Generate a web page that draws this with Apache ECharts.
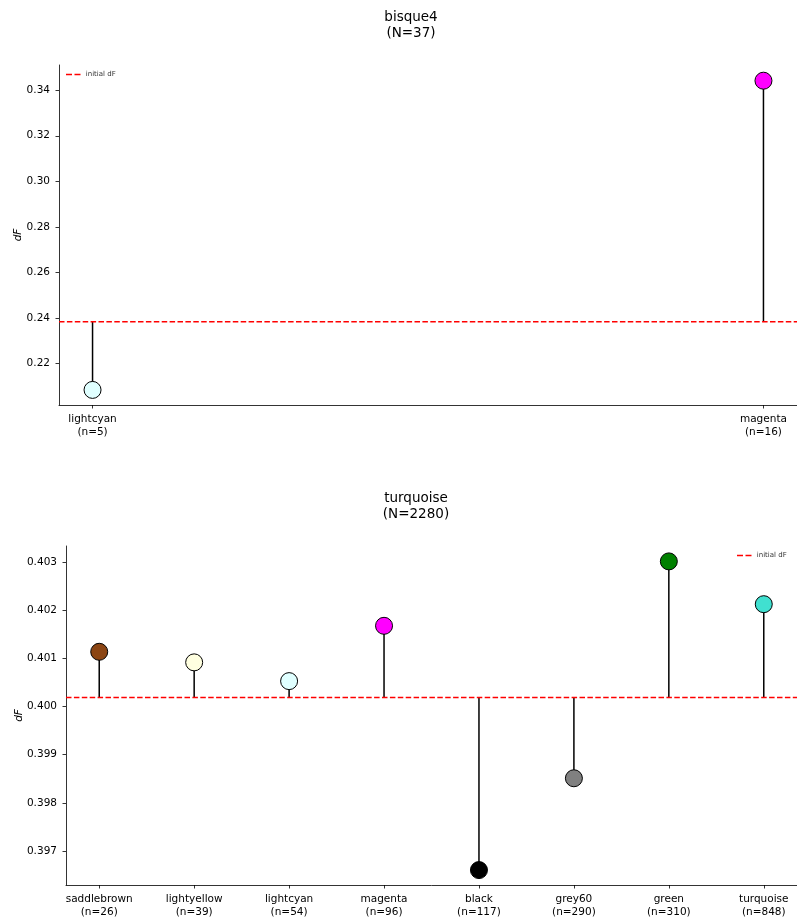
<!DOCTYPE html>
<html>
<head>
<meta charset="utf-8">
<script src="https://cdn.jsdelivr.net/npm/echarts@6/dist/echarts.min.js"></script>
<style>html,body{margin:0;padding:0;background:#fff}#c{width:797px;height:919px}</style>
</head>
<body>
<div id="c"></div>
<script>
// ---- data: top panel (bisque4) ----
const topTitle = 'bisque4\n(N=37)';
const topCats = ['lightcyan', 'magenta'];
const topN = [5, 16];
const topValues = [0.2083, 0.3442];
const topColors = ['#E0FFFF', '#FF00FF'];
const topInit = 0.2383;
const topTicks = [0.22, 0.24, 0.26, 0.28, 0.30, 0.32, 0.34];

// ---- data: bottom panel (turquoise) ----
const botTitle = 'turquoise\n(N=2280)';
const botCats = ['saddlebrown', 'lightyellow', 'lightcyan', 'magenta', 'black', 'grey60', 'green', 'turquoise'];
const botN = [26, 39, 54, 96, 117, 290, 310, 848];
const botValues = [0.40114, 0.40092, 0.40053, 0.40168, 0.39660, 0.39851, 0.40302, 0.40213];
const botColors = ['#8B4513', '#FFFFE0', '#E0FFFF', '#FF00FF', '#000000', '#808080', '#008000', '#40E0D0'];
const botInit = 0.40019;
const botTicks = [0.397, 0.398, 0.399, 0.400, 0.401, 0.402, 0.403];

const FONT = 'DejaVu Sans';
const chart = echarts.init(document.getElementById('c'));

function xAxisFor(gi, cats, ns) {
  const m = 0.05 * (cats.length - 1);
  const idx = cats.map((_, i) => i);
  return {
    type: 'value', gridIndex: gi, min: -m, max: cats.length - 1 + m,
    splitLine: {show: false},
    axisLine: {onZero: false, lineStyle: {color: '#000', width: 0.8}},
    axisTick: {customValues: idx, length: 3.5, lineStyle: {color: '#000', width: 0.8}},
    axisLabel: {customValues: idx, margin: 8, color: '#000', fontFamily: FONT, fontSize: 10.5, lineHeight: 13,
      formatter: v => cats[Math.round(v)] + '\n(n=' + ns[Math.round(v)] + ')'}
  };
}
function yAxisFor(gi, min, max, ticks, dec, gap) {
  return {
    type: 'value', gridIndex: gi, min: min, max: max,
    name: 'dF', nameLocation: 'middle', nameRotate: 90, nameGap: gap, nameMoveOverlap: false,
    nameTextStyle: {fontStyle: 'italic', fontFamily: FONT, fontSize: 10.5, color: '#000'},
    splitLine: {show: false},
    axisLine: {show: true, onZero: false, lineStyle: {color: '#000', width: 0.8}},
    axisTick: {show: true, customValues: ticks, length: 3.5, lineStyle: {color: '#000', width: 0.8}},
    axisLabel: {customValues: ticks, margin: 9, color: '#000', fontFamily: FONT, fontSize: 10.5,
      formatter: v => v.toFixed(dec)}
  };
}
function stems(gi, vals, init) {
  return {
    type: 'custom', xAxisIndex: gi, yAxisIndex: gi, z: 2,
    data: vals.map((v, i) => [i, v]),
    renderItem: (params, api) => {
      const x = api.value(0), y = api.value(1);
      const p0 = api.coord([x, init]), p1 = api.coord([x, y]);
      return {type: 'line', shape: {x1: p0[0], y1: p0[1], x2: p1[0], y2: p1[1]},
        style: {stroke: '#000', lineWidth: 1.5}};
    }
  };
}
function markers(gi, vals, colors) {
  return {
    type: 'scatter', xAxisIndex: gi, yAxisIndex: gi, z: 4, symbolSize: 17,
    data: vals.map((v, i) => ({value: [i, v], itemStyle: {color: colors[i], borderColor: '#000', borderWidth: 1, opacity: 1}}))
  };
}
function initLine(gi, cats, init) {
  const m = 0.05 * (cats.length - 1);
  return {
    type: 'line', name: 'initial dF', xAxisIndex: gi, yAxisIndex: gi, z: 3,
    symbol: 'none', showSymbol: false, silent: true,
    data: [[-m, init], [cats.length - 1 + m, init]],
    lineStyle: {color: '#FF0000', width: 1.5, type: [5.5, 2.4]},
    itemStyle: {color: '#FF0000'}
  };
}

const dashIcon = 'path://M0,0L6,0L6,1.5L0,1.5Z M8.5,0L14.5,0L14.5,1.5L8.5,1.5Z';
function legendAt(left, top) {
  return {left: left, top: top, padding: 0, itemWidth: 15, itemHeight: 1.5, itemGap: 4,
    textStyle: {fontFamily: FONT, fontSize: 7, color: '#333'},
    data: [{name: 'initial dF', icon: dashIcon, itemStyle: {color: '#FF0000'}}]};
}

chart.setOption({
  animation: false,
  backgroundColor: '#fff',
  title: [
    {text: topTitle, left: 411, top: 9, padding: 0, textAlign: 'center',
      textStyle: {fontFamily: FONT, fontSize: 13.5, fontWeight: 'normal', color: '#000', lineHeight: 16}},
    {text: botTitle, left: 416, top: 490, padding: 0, textAlign: 'center',
      textStyle: {fontFamily: FONT, fontSize: 13.5, fontWeight: 'normal', color: '#000', lineHeight: 16}}
  ],
  legend: [legendAt(66, 71), legendAt(737, 552)],
  grid: [
    {left: 59, top: 65, width: 738, height: 340, containLabel: false, outerBoundsMode: 'none'},
    {left: 66, top: 546, width: 731, height: 339, containLabel: false, outerBoundsMode: 'none'}
  ],
  xAxis: [xAxisFor(0, topCats, topN), xAxisFor(1, botCats, botN)],
  yAxis: [
    yAxisFor(0, 0.20167, 0.3511, topTicks, 2, 35),
    yAxisFor(1, 0.39629, 0.40334, botTicks, 3, 41)
  ],
  series: [
    initLine(0, topCats, topInit), stems(0, topValues, topInit), markers(0, topValues, topColors),
    initLine(1, botCats, botInit), stems(1, botValues, botInit), markers(1, botValues, botColors)
  ]
});
</script>
</body>
</html>
